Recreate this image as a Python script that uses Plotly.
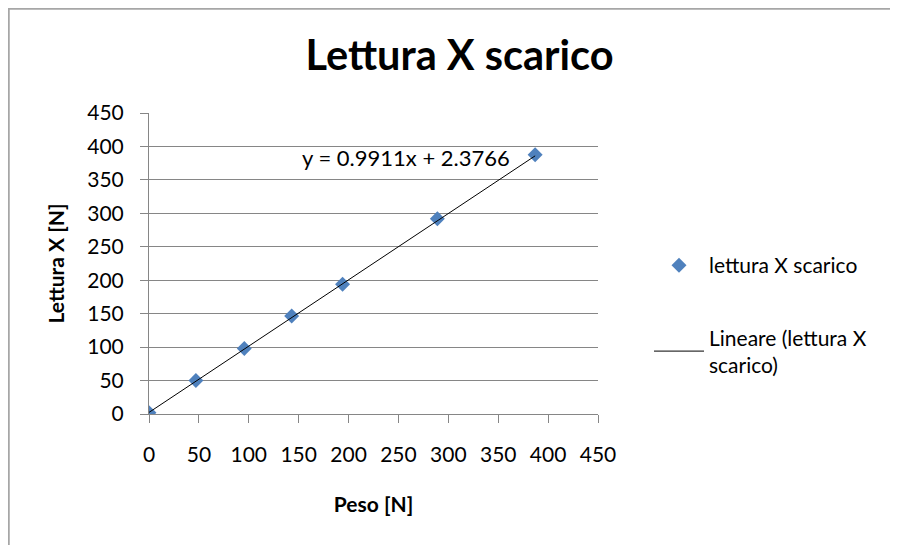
import plotly.graph_objects as go

# ---- data ----
peso = [0, 47, 95.5, 143, 194, 289, 387]
lettura = [2, 50, 98, 146.5, 194, 292, 387.5]
trend_slope = 0.9911
trend_intercept = 2.3766
x_ticks = [0, 50, 100, 150, 200, 250, 300, 350, 400, 450]
y_ticks = [0, 50, 100, 150, 200, 250, 300, 350, 400, 450]

series_name = "lettura X scarico"
trend_name = "Lineare (lettura X<br>scarico)"
title_text = "Lettura X scarico"
x_title = "Peso [N]"
y_title = "Lettura X [N]"
equation_text = "y = 0.9911x + 2.3766"

FONT = "Lato"
GRID = "#868686"

PAGE_W, PAGE_H = 898, 545
OFF = 8  # page offset of the figure (body margin)
W, H = PAGE_W - OFF, PAGE_H - OFF
# target plot area in page pixels
PX0, PX1, PY0, PY1 = 149, 598, 113, 414
ML, MT = PX0 - OFF, PY0 - OFF
PW, PH = PX1 - PX0, PY1 - PY0
MR, MB = W - ML - PW, H - MT - PH

def px_to_paper_x(px):
    return (px - PX0) / PW

def px_to_paper_y(py):
    return (PY1 - py) / PH

tx = [min(peso), max(peso)]
ty = [trend_slope * v + trend_intercept for v in tx]

fig = go.Figure()
fig.add_trace(go.Scatter(
    x=peso, y=lettura, mode="markers", name=series_name,
    marker=dict(symbol="diamond", size=11.5, color="#4F81BD"),
    legendgroup="a",
))
fig.add_trace(go.Scatter(
    x=tx, y=ty, mode="lines", name=trend_name,
    line=dict(color="#000000", width=1),
    legendgroup="b",
))

fig.add_annotation(
    x=257.5, y=384, xref="x", yref="y", text=equation_text, showarrow=False,
    font=dict(family=FONT, size=22, color="#000"), xanchor="center", yanchor="middle",
)

# chart-area frame (cropped in the reference: only top and left edges visible)
fx0, fx1 = px_to_paper_x(8.5), px_to_paper_x(PAGE_W + 10)
fy0, fy1 = px_to_paper_y(PAGE_H + 10), px_to_paper_y(8.5)
fig.add_shape(type="path", xref="paper", yref="paper",
              path=f"M {fx1} {fy1} L {fx0} {fy1} L {fx0} {fy0}",
              line=dict(color="#a6a6a6", width=2.5), layer="below")

fig.update_layout(
    width=W, height=H,
    margin=dict(l=ML, r=MR, t=MT, b=MB),
    paper_bgcolor="white", plot_bgcolor="white",
    font=dict(family=FONT, size=21, color="#000"),
    title=dict(text="<b>" + title_text + "</b>", font=dict(family=FONT, size=41.5, color="#000"),
               x=px_to_paper_x(459.5), xref="paper", xanchor="center",
               y=1 - (55 - OFF) / H, yref="container", yanchor="middle"),
    showlegend=True,
    legend=dict(x=px_to_paper_x(649), y=px_to_paper_y(245), xanchor="left", yanchor="top",
                xref="paper", yref="paper",
                font=dict(family=FONT, size=21, color="#000"),
                itemwidth=50, tracegroupgap=42, bgcolor="rgba(0,0,0,0)"),
    xaxis=dict(range=[0, 450], tickvals=x_ticks, showgrid=False, zeroline=False,
               showline=True, linecolor=GRID, linewidth=1,
               ticks="outside", ticklen=8, tickcolor=GRID,
               ticklabelstandoff=14,
               title=dict(text="<b>" + x_title + "</b>", font=dict(family=FONT, size=21), standoff=32)),
    yaxis=dict(range=[0, 450], tickvals=y_ticks, showgrid=True, gridcolor=GRID, gridwidth=1,
               zeroline=False, showline=True, linecolor=GRID, linewidth=1,
               ticks="outside", ticklen=8, tickcolor=GRID,
               ticklabelstandoff=12,
               title=dict(text="<b>" + y_title + "</b>", font=dict(family=FONT, size=21), standoff=16)),
)

fig.write_html("out.html")
